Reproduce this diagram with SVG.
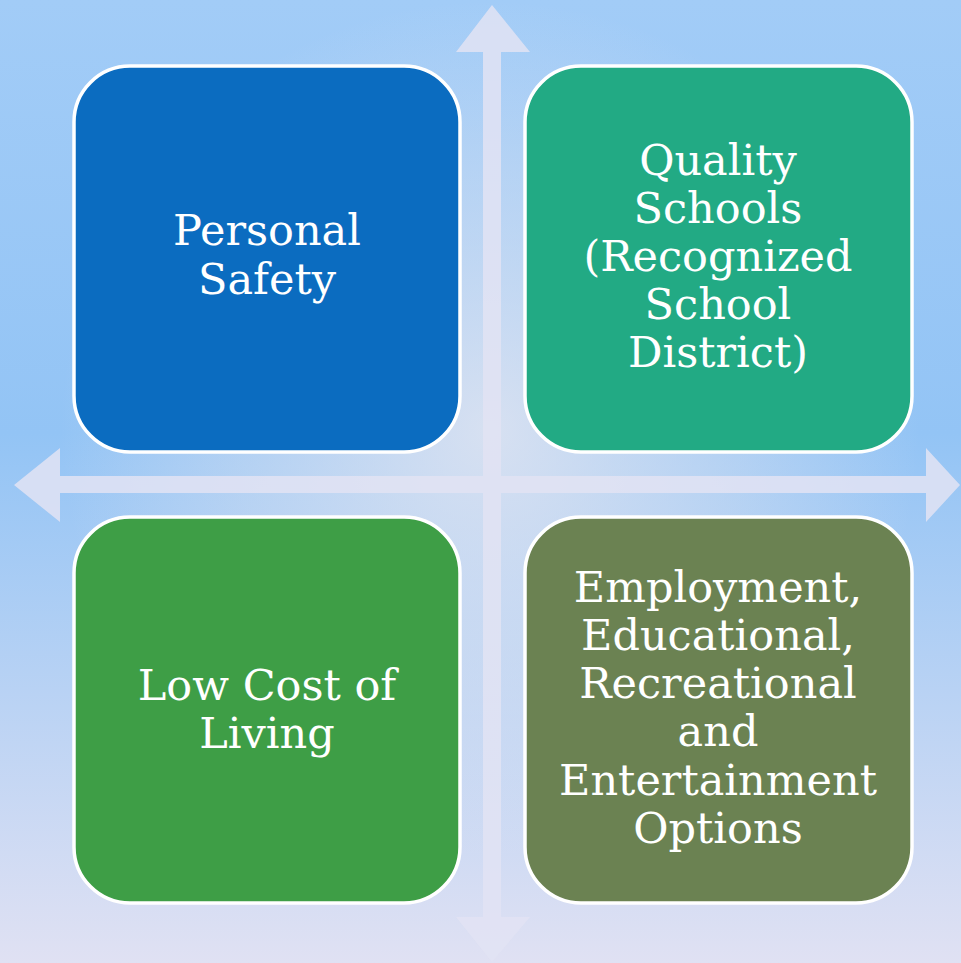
<svg xmlns="http://www.w3.org/2000/svg" width="961" height="963" viewBox="0 0 961 963">
<defs>
<linearGradient id="bg" x1="0" y1="0" x2="0" y2="1">
<stop offset="0" stop-color="#a2ccf7"/>
<stop offset="0.45" stop-color="#93c4f5"/>
<stop offset="1" stop-color="#e0e1f3"/>
</linearGradient>
<radialGradient id="glow" cx="490" cy="430" r="430" gradientUnits="userSpaceOnUse">
<stop offset="0" stop-color="#eeeaf0" stop-opacity="0.75"/>
<stop offset="0.6" stop-color="#e6e6f0" stop-opacity="0.35"/>
<stop offset="1" stop-color="#e6e6f0" stop-opacity="0"/>
</radialGradient>
<style>
.box{stroke:#ffffff;stroke-width:3.5}
.t{font-family:"DejaVu Serif","Liberation Serif",serif;font-size:43px;fill:#ffffff;text-anchor:middle}
.arr{fill:#e2e3f3;fill-opacity:0.85}
</style>
</defs>
<rect width="961" height="963" fill="url(#bg)"/>
<rect width="961" height="963" fill="url(#glow)"/>
<g id="connectors">
<polygon class="arr" points="492,5 530,52 501,52 501,476 926,476 926,448 960,485 926,522 926,493 501,493 501,917 530,917 492,962 456,917 483,917 483,493 60,493 60,522 14,485 60,448 60,476 483,476 483,52 456,52"/>
</g>
<g id="node-safety">
<rect class="box" x="74" y="66" width="386" height="386" rx="56" fill="#0b6cc0"/>
<text class="t" x="267" y="245">Personal</text>
<text class="t" x="267" y="294">Safety</text>
</g>
<g id="node-schools">
<rect class="box" x="525" y="66" width="387" height="386" rx="56" fill="#22aa84"/>
<text class="t" x="718" y="175">Quality</text>
<text class="t" x="718" y="223">Schools</text>
<text class="t" x="718" y="271">(Recognized</text>
<text class="t" x="718" y="319">School</text>
<text class="t" x="718" y="367">District)</text>
</g>
<g id="node-cost">
<rect class="box" x="74" y="517" width="386" height="386" rx="56" fill="#3e9e46"/>
<text class="t" x="267" y="700">Low Cost of</text>
<text class="t" x="267" y="748">Living</text>
</g>
<g id="node-options">
<rect class="box" x="525" y="517" width="387" height="386" rx="56" fill="#6b8252"/>
<text class="t" x="718" y="602">Employment,</text>
<text class="t" x="718" y="650">Educational,</text>
<text class="t" x="718" y="698">Recreational</text>
<text class="t" x="718" y="746">and</text>
<text class="t" x="718" y="795">Entertainment</text>
<text class="t" x="718" y="843">Options</text>
</g>
</svg>
